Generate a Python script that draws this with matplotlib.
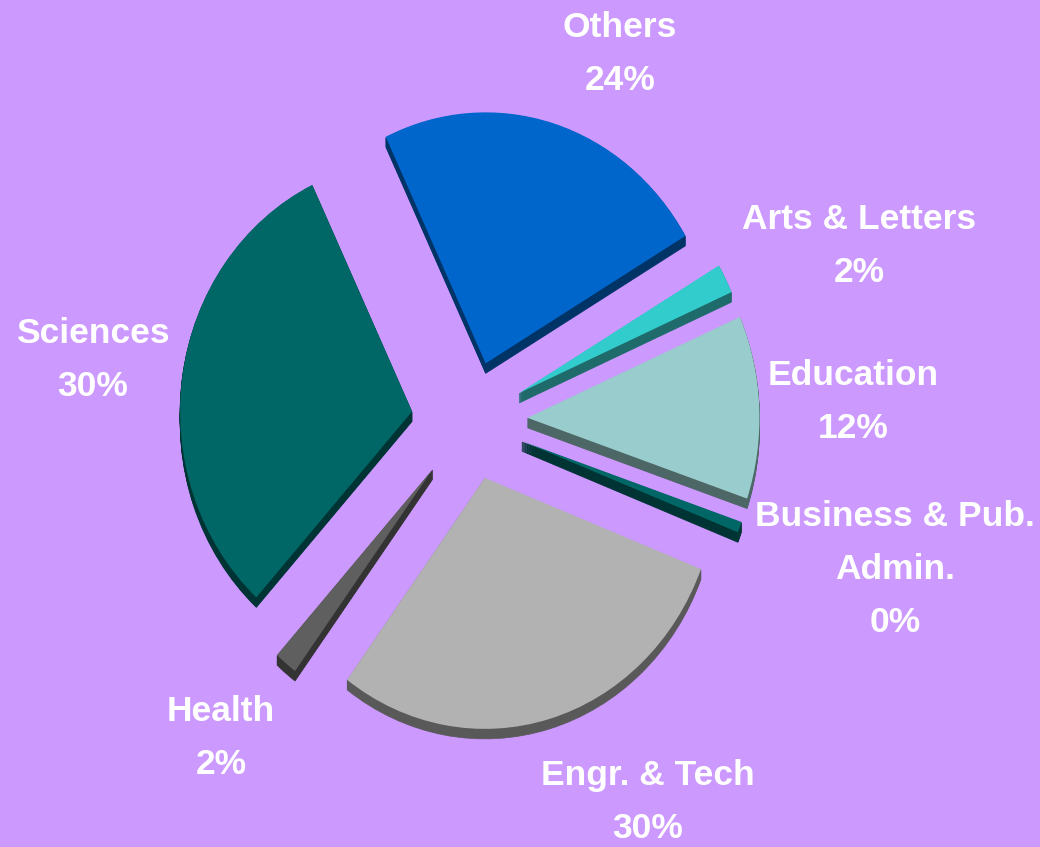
import matplotlib
matplotlib.use("Agg")
import matplotlib.pyplot as plt

categories = ["Others", "Arts & Letters", "Education", "Business & Pub.\nAdmin.",
              "Engr. & Tech", "Health", "Sciences"]
percent_labels = ["24%", "2%", "12%", "0%", "30%", "2%", "30%"]
# slice sizes
shares = [23.6, 1.9, 11.8, 0.7, 29.2, 1.6, 31.2]
top_colors = ["#0066CC", "#33CCCC", "#99CCCC", "#006666", "#B2B2B2", "#5F5F5F", "#006666"]
side_colors = ["#003366", "#1F6B6B", "#4D6666", "#003333", "#595959", "#333333", "#003333"]

W, H = 1040, 847
BG = "#CC99FF"
CX, CY, RX, RY = 469.5, 420.5, 232, 251
DEPTH = 10
START = 90 + 25.5
EXPLODE = [0.238, 0.24, 0.25, 0.24, 0.238, 0.25, 0.25]

# label centres in pixels (x, y from top)
label_pos = [(620, 54), (859, 246), (853, 402), (895, 569.5), (648, 802), (221, 738), (93, 360)]

fig = plt.figure(figsize=(W / 100, H / 100), dpi=100, facecolor=BG)
ax = fig.add_axes([0, 0, 1, 1])
ax.set_facecolor(BG)

for d in range(DEPTH, 0, -1):
    wedges, _ = ax.pie(shares, explode=EXPLODE, colors=side_colors, startangle=START,
                       counterclock=False, center=(0, -d / RY), radius=1)
    for w in wedges:
        w.set_edgecolor(w.get_facecolor())
        w.set_linewidth(0.5)
ax.pie(shares, explode=EXPLODE, colors=top_colors, startangle=START,
       counterclock=False, center=(0, 0), radius=1,
       wedgeprops={"linewidth": 0})

ax.set_aspect("auto")
ax.set_xlim(-CX / RX, (W - CX) / RX)
ax.set_ylim((CY - H) / RY, CY / RY)

for name, pct, (x, y) in zip(categories, percent_labels, label_pos):
    fig.text(x / W, 1 - y / H, name + "\n" + pct, color="white", ha="center", va="center",
             family="Liberation Sans", weight="bold", fontsize=25.5, linespacing=1.76)

fig.savefig("out.png", dpi=100, facecolor=BG)
